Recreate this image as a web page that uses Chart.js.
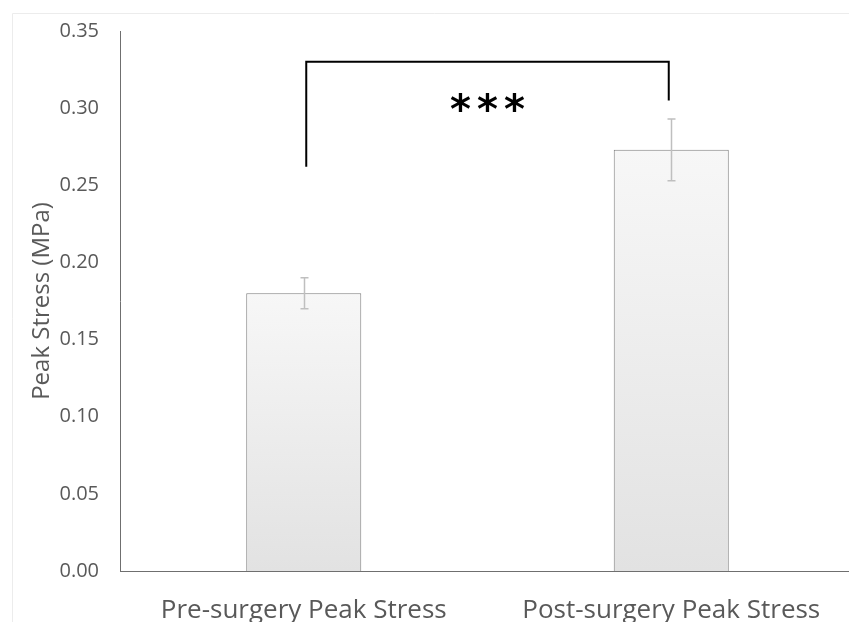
<!DOCTYPE html>
<html>
<head>
<meta charset="utf-8">
<script src="https://cdn.jsdelivr.net/npm/chart.js@4.4.1/dist/chart.umd.min.js"></script>
<style>
html,body{margin:0;padding:0;background:#fff;overflow:hidden;}
#wrap{width:849px;height:622px;position:relative;overflow:hidden;}
#c{position:absolute;left:0;top:0;}
</style>
</head>
<body>
<div id="wrap"><canvas id="c" width="855" height="622"></canvas></div>
<script>
const categories = ["Pre-surgery Peak Stress", "Post-surgery Peak Stress"];
const meanStress = [0.180, 0.273];
const errStress = [0.010, 0.020];
const yTicks = [0, 0.05, 0.10, 0.15, 0.20, 0.25, 0.30, 0.35];
const yTitle = "Peak Stress (MPa)";
const bracketTop = 0.330;
const bracketLeftEnd = 0.262;
const bracketRightEnd = 0.305;
const sigLabel = "***";
const sigLabelY = 0.303;

const gray = "#595959";

const framePlugin = {
  id: "frame",
  beforeDraw(chart) {
    const ctx = chart.ctx;
    ctx.save();
    ctx.fillStyle = "#fff";
    ctx.fillRect(0, 0, chart.width, chart.height);
    ctx.strokeStyle = "#ececec";
    ctx.lineWidth = 1;
    ctx.beginPath();
    ctx.moveTo(12.5, chart.height + 2);
    ctx.lineTo(12.5, 13.5);
    ctx.lineTo(chart.width + 2, 13.5);
    ctx.stroke();
    ctx.restore();
  }
};

const extrasPlugin = {
  id: "extras",
  afterDatasetsDraw(chart) {
    const ctx = chart.ctx;
    const x = chart.scales.x, y = chart.scales.y;
    ctx.save();
    // error bars
    ctx.strokeStyle = "#bfbfbf";
    ctx.lineWidth = 1.5;
    meanStress.forEach((m, i) => {
      const px = Math.round(x.getPixelForValue(i)) + 0.5;
      const yt = y.getPixelForValue(m + errStress[i]);
      const yb = y.getPixelForValue(m - errStress[i]);
      ctx.beginPath();
      ctx.moveTo(px, yt); ctx.lineTo(px, yb);
      ctx.moveTo(px - 4, yt); ctx.lineTo(px + 4, yt);
      ctx.moveTo(px - 4, yb); ctx.lineTo(px + 4, yb);
      ctx.stroke();
    });
    // significance bracket
    const x0 = x.getPixelForValue(0) + 2.5;
    const x1 = x.getPixelForValue(1) - 2.5;
    ctx.strokeStyle = "#000";
    ctx.lineWidth = 2;
    ctx.beginPath();
    ctx.moveTo(x0, y.getPixelForValue(bracketLeftEnd));
    ctx.lineTo(x0, y.getPixelForValue(bracketTop));
    ctx.lineTo(x1, y.getPixelForValue(bracketTop));
    ctx.lineTo(x1, y.getPixelForValue(bracketRightEnd));
    ctx.stroke();
    ctx.fillStyle = "#000";
    ctx.font = "bold 40px 'DejaVu Sans'";
    ctx.textAlign = "center";
    ctx.textBaseline = "middle";
    const cx = (x0 + x1) / 2;
    const cy = y.getPixelForValue(sigLabelY) + 9;
    const chars = sigLabel.split("");
    chars.forEach((ch, k) => {
      ctx.fillText(ch, cx + (k - (chars.length - 1) / 2) * 27, cy);
    });
    // x category labels
    ctx.fillStyle = gray;
    ctx.font = "26px 'Open Sans'";
    ctx.textBaseline = "alphabetic";
    categories.forEach((c, i) => {
      ctx.fillText(c, x.getPixelForValue(i), 618);
    });
    ctx.restore();
  }
};

function barGradient(context) {
  const chart = context.chart;
  const area = chart.chartArea;
  if (!area) return "#eee";
  const yScale = chart.scales.y;
  const v = context.raw;
  const top = yScale.getPixelForValue(v);
  const bottom = yScale.getPixelForValue(0);
  const g = chart.ctx.createLinearGradient(0, top, 0, bottom);
  g.addColorStop(0, "#f7f7f7");
  g.addColorStop(1, "#e2e2e2");
  return g;
}

new Chart(document.getElementById("c"), {
  type: "bar",
  data: {
    labels: categories,
    datasets: [{
      data: meanStress,
      backgroundColor: barGradient,
      borderColor: "#7f7f7f",
      borderWidth: 1,
      borderSkipped: "bottom",
      barPercentage: 0.313,
      categoryPercentage: 1.0
    }]
  },
  options: {
    responsive: false,
    animation: false,
    layout: { padding: { top: 31, right: 0, left: 28, bottom: 0 } },
    plugins: { legend: { display: false }, tooltip: { enabled: false } },
    scales: {
      x: {
        grid: { display: false, drawTicks: false },
        border: { display: true, color: "#6f6f6f", width: 1 },
        ticks: { display: false },
        afterFit(scale) { scale.height = 51; }
      },
      y: {
        min: 0, max: 0.35,
        afterBuildTicks(scale) { scale.ticks = yTicks.map(v => ({ value: v })); },
        grid: { display: false, drawTicks: false },
        border: { display: true, color: "#6f6f6f", width: 1 },
        ticks: {
          color: gray,
          font: { family: "'Open Sans'", size: 20, lineHeight: 1.0 },
          padding: 21,
          callback: v => Number(v).toFixed(2)
        },
        title: {
          display: true,
          text: yTitle,
          color: gray,
          font: { family: "'Open Sans'", size: 24 },
          padding: { top: 0, bottom: 0 }
        },
        afterFit(scale) { scale.width = 92; scale.paddingTop = 0; scale.paddingBottom = 0; }
      }
    }
  },
  plugins: [framePlugin, extrasPlugin]
});
</script>
</body>
</html>
